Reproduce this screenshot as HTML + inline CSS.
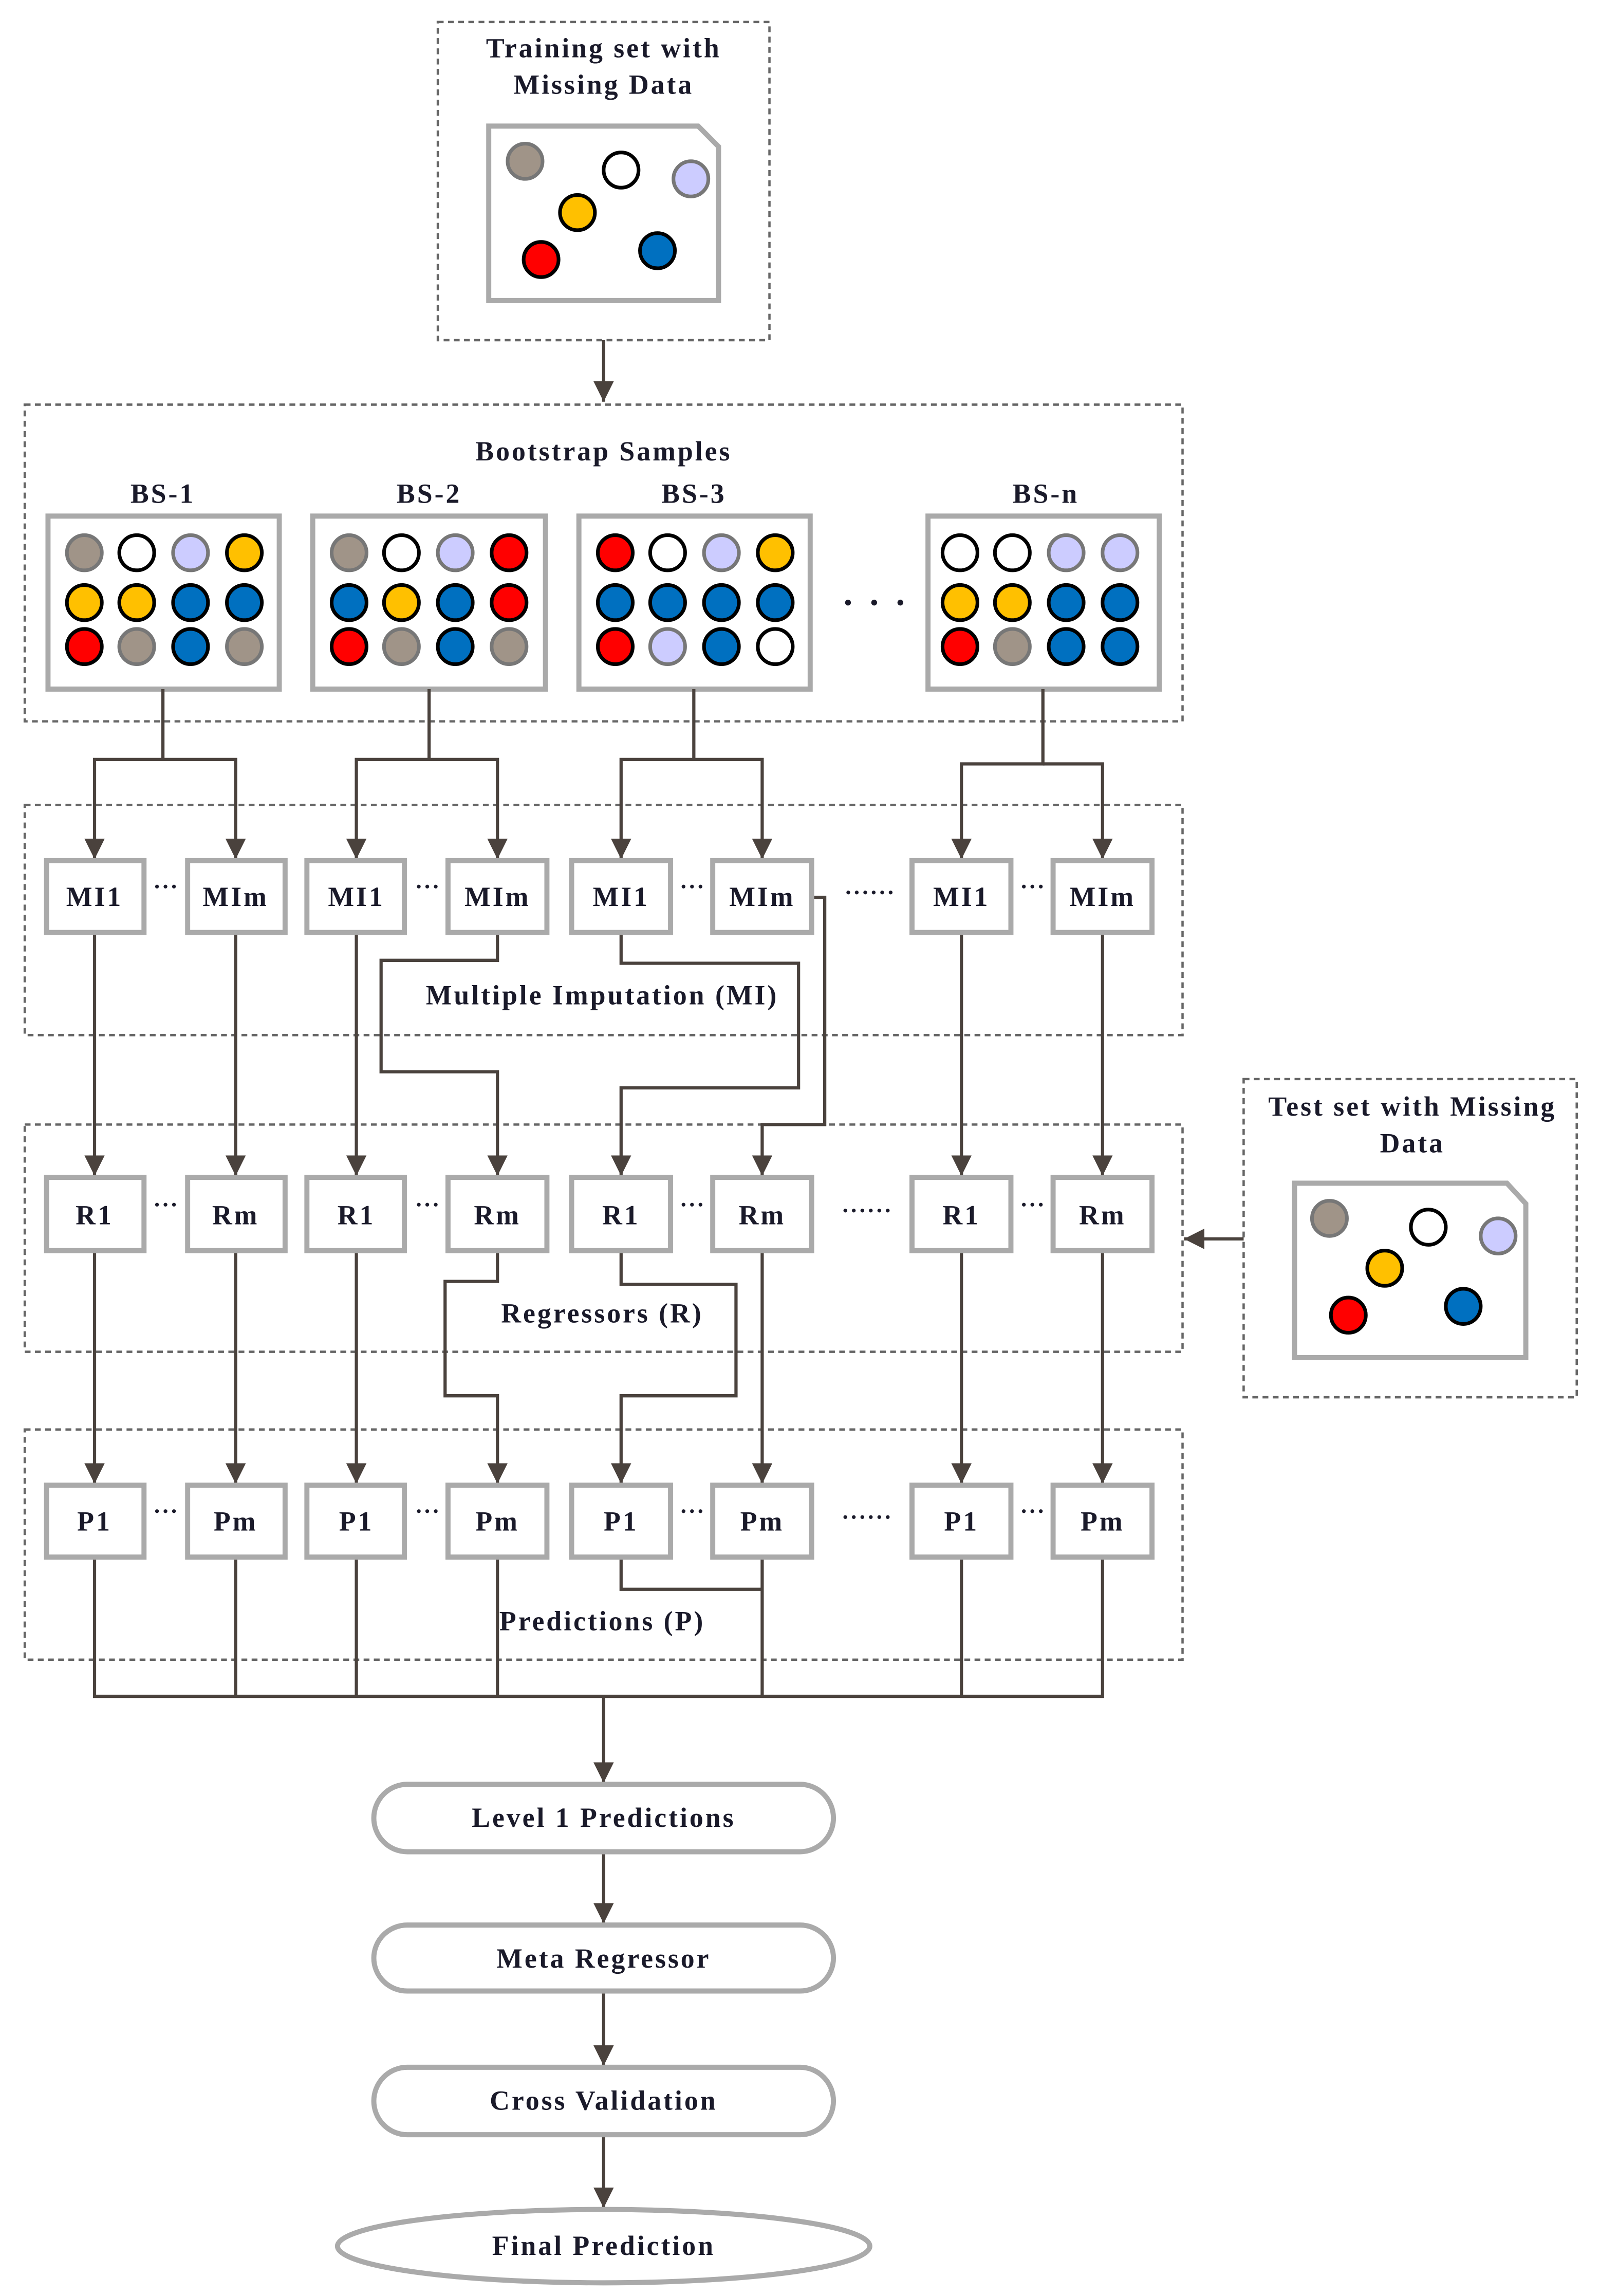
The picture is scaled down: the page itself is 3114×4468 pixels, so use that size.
<!DOCTYPE html>
<html><head><meta charset="utf-8"><style>html,body{margin:0;padding:0;background:#fff}svg{display:block}</style></head>
<body>
<svg width="3114" height="4468" viewBox="0 0 1100 1566" preserveAspectRatio="none" xmlns="http://www.w3.org/2000/svg" font-family="'Liberation Serif', serif" font-weight="bold">
<defs>
<marker id="b" viewBox="0 0 10 10" refX="10" refY="5" markerWidth="14" markerHeight="14" orient="auto" markerUnits="userSpaceOnUse"><path d="M0,0 L10,5 L0,10 z" fill="#4a423d"/></marker>
</defs>
<g fill="none" stroke="#666" stroke-width="1.6" stroke-dasharray="4 3">
<rect x="301" y="15" width="228" height="217"/>
<rect x="17" y="276" width="796" height="216"/>
<rect x="17" y="549" width="796" height="157"/>
<rect x="17" y="767" width="796" height="155"/>
<rect x="17" y="975" width="796" height="157"/>
<rect x="855" y="736" width="229" height="217"/>
</g>
<g fill="#1a1a2a" text-anchor="middle" font-size="19" letter-spacing="1.4">
<text x="415" y="39">Training set with</text>
<text x="415" y="64">Missing Data</text>
<text x="415" y="314">Bootstrap Samples</text>
<text x="112" y="343">BS-1</text>
<text x="295" y="343">BS-2</text>
<text x="477" y="343">BS-3</text>
<text x="719" y="343">BS-n</text>
<text x="414" y="685">Multiple Imputation (MI)</text>
<text x="414" y="902">Regressors (R)</text>
<text x="414" y="1112">Predictions (P)</text>
<text x="971" y="761">Test set with Missing</text>
<text x="971" y="786">Data</text>
</g>
<g fill="#fff" stroke="#aaa" stroke-width="3.5">
<path d="M336,86 H480 L494,100 V205 H336 Z"/>
<path d="M890,807 H1036 L1049,821 V926 H890 Z"/>
</g>
<g stroke-width="2.5">
<circle cx="361" cy="110" r="12" fill="#a09488" stroke="#777"/>
<circle cx="427" cy="116" r="12" fill="#fff" stroke="#000"/>
<circle cx="475" cy="122" r="12" fill="#ccccff" stroke="#777"/>
<circle cx="397" cy="145" r="12" fill="#ffc000" stroke="#000"/>
<circle cx="372" cy="177" r="12" fill="#ff0000" stroke="#000"/>
<circle cx="452" cy="171" r="12" fill="#0070c0" stroke="#000"/>
<circle cx="914" cy="831" r="12" fill="#a09488" stroke="#777"/>
<circle cx="982" cy="837" r="12" fill="#fff" stroke="#000"/>
<circle cx="1030" cy="843" r="12" fill="#ccccff" stroke="#777"/>
<circle cx="952" cy="865" r="12" fill="#ffc000" stroke="#000"/>
<circle cx="927" cy="897" r="12" fill="#ff0000" stroke="#000"/>
<circle cx="1006" cy="891" r="12" fill="#0070c0" stroke="#000"/>
</g>
<g fill="#fff" stroke="#aaa" stroke-width="3.5">
<rect x="33" y="352" width="159" height="118"/>
<rect x="215" y="352" width="160" height="118"/>
<rect x="398" y="352" width="159" height="118"/>
<rect x="638" y="352" width="159" height="118"/>
</g>
<g stroke-width="2.5">
<circle cx="58" cy="377" r="12" fill="#a09488" stroke="#777"/><circle cx="94" cy="377" r="12" fill="#fff" stroke="#000"/><circle cx="131" cy="377" r="12" fill="#ccccff" stroke="#777"/><circle cx="168" cy="377" r="12" fill="#ffc000" stroke="#000"/>
<circle cx="58" cy="411" r="12" fill="#ffc000" stroke="#000"/><circle cx="94" cy="411" r="12" fill="#ffc000" stroke="#000"/><circle cx="131" cy="411" r="12" fill="#0070c0" stroke="#000"/><circle cx="168" cy="411" r="12" fill="#0070c0" stroke="#000"/>
<circle cx="58" cy="441" r="12" fill="#ff0000" stroke="#000"/><circle cx="94" cy="441" r="12" fill="#a09488" stroke="#777"/><circle cx="131" cy="441" r="12" fill="#0070c0" stroke="#000"/><circle cx="168" cy="441" r="12" fill="#a09488" stroke="#777"/>
<circle cx="240" cy="377" r="12" fill="#a09488" stroke="#777"/><circle cx="276" cy="377" r="12" fill="#fff" stroke="#000"/><circle cx="313" cy="377" r="12" fill="#ccccff" stroke="#777"/><circle cx="350" cy="377" r="12" fill="#ff0000" stroke="#000"/>
<circle cx="240" cy="411" r="12" fill="#0070c0" stroke="#000"/><circle cx="276" cy="411" r="12" fill="#ffc000" stroke="#000"/><circle cx="313" cy="411" r="12" fill="#0070c0" stroke="#000"/><circle cx="350" cy="411" r="12" fill="#ff0000" stroke="#000"/>
<circle cx="240" cy="441" r="12" fill="#ff0000" stroke="#000"/><circle cx="276" cy="441" r="12" fill="#a09488" stroke="#777"/><circle cx="313" cy="441" r="12" fill="#0070c0" stroke="#000"/><circle cx="350" cy="441" r="12" fill="#a09488" stroke="#777"/>
<circle cx="423" cy="377" r="12" fill="#ff0000" stroke="#000"/><circle cx="459" cy="377" r="12" fill="#fff" stroke="#000"/><circle cx="496" cy="377" r="12" fill="#ccccff" stroke="#777"/><circle cx="533" cy="377" r="12" fill="#ffc000" stroke="#000"/>
<circle cx="423" cy="411" r="12" fill="#0070c0" stroke="#000"/><circle cx="459" cy="411" r="12" fill="#0070c0" stroke="#000"/><circle cx="496" cy="411" r="12" fill="#0070c0" stroke="#000"/><circle cx="533" cy="411" r="12" fill="#0070c0" stroke="#000"/>
<circle cx="423" cy="441" r="12" fill="#ff0000" stroke="#000"/><circle cx="459" cy="441" r="12" fill="#ccccff" stroke="#777"/><circle cx="496" cy="441" r="12" fill="#0070c0" stroke="#000"/><circle cx="533" cy="441" r="12" fill="#fff" stroke="#000"/>
<circle cx="660" cy="377" r="12" fill="#fff" stroke="#000"/><circle cx="696" cy="377" r="12" fill="#fff" stroke="#000"/><circle cx="733" cy="377" r="12" fill="#ccccff" stroke="#777"/><circle cx="770" cy="377" r="12" fill="#ccccff" stroke="#777"/>
<circle cx="660" cy="411" r="12" fill="#ffc000" stroke="#000"/><circle cx="696" cy="411" r="12" fill="#ffc000" stroke="#000"/><circle cx="733" cy="411" r="12" fill="#0070c0" stroke="#000"/><circle cx="770" cy="411" r="12" fill="#0070c0" stroke="#000"/>
<circle cx="660" cy="441" r="12" fill="#ff0000" stroke="#000"/><circle cx="696" cy="441" r="12" fill="#a09488" stroke="#777"/><circle cx="733" cy="441" r="12" fill="#0070c0" stroke="#000"/><circle cx="770" cy="441" r="12" fill="#0070c0" stroke="#000"/>
</g>
<g fill="#1a1a2a"><circle cx="583" cy="411" r="2"/><circle cx="601" cy="411" r="2"/><circle cx="619" cy="411" r="2"/></g>
<g fill="none" stroke="#4a423d" stroke-width="2.2" marker-end="url(#b)">
<path d="M415,232 V274"/>
<path d="M112,470 V518 H65 V586"/><path d="M112,518 H162 V586"/>
<path d="M295,470 V518 H245 V586"/><path d="M295,518 H342 V586"/>
<path d="M477,470 V518 H427 V586"/><path d="M477,518 H524 V586"/>
<path d="M717,470 V521 H661 V586"/><path d="M717,521 H758 V586"/>
<path d="M65,636 V802"/><path d="M162,636 V802"/><path d="M245,636 V802"/>
<path d="M342,636 V655 H262 V731 H342 V802"/>
<path d="M427,636 V657 H549 V742 H427 V802"/>
<path d="M558,612 H567 V767 H524 V802"/>
<path d="M661,636 V802"/><path d="M758,636 V802"/>
<path d="M65,853 V1012"/><path d="M162,853 V1012"/><path d="M245,853 V1012"/>
<path d="M342,853 V874 H306 V952 H342 V1012"/>
<path d="M427,853 V876 H506 V952 H427 V1012"/>
<path d="M524,853 V1012"/><path d="M661,853 V1012"/><path d="M758,853 V1012"/>
<path d="M855,845 H814"/>
<path d="M415,1157 V1216"/>
<path d="M415,1263 V1312"/>
<path d="M415,1358 V1409"/>
<path d="M415,1456 V1506"/>
</g>
<g fill="none" stroke="#4a423d" stroke-width="2.2">
<path d="M65,1062 V1157 H758 V1062"/>
<path d="M162,1062 V1157"/><path d="M245,1062 V1157"/><path d="M342,1062 V1157"/><path d="M524,1062 V1157"/><path d="M661,1062 V1157"/>
<path d="M427,1062 V1084 H524"/>
</g>
<g fill="#fff" stroke="#aaa" stroke-width="3.5">
<rect x="32" y="587" width="67" height="49"/><rect x="129" y="587" width="67" height="49"/><rect x="211" y="587" width="67" height="49"/><rect x="308" y="587" width="68" height="49"/><rect x="393" y="587" width="68" height="49"/><rect x="490" y="587" width="68" height="49"/><rect x="627" y="587" width="68" height="49"/><rect x="724" y="587" width="68" height="49"/>
<rect x="32" y="803" width="67" height="50"/><rect x="129" y="803" width="67" height="50"/><rect x="211" y="803" width="67" height="50"/><rect x="308" y="803" width="68" height="50"/><rect x="393" y="803" width="68" height="50"/><rect x="490" y="803" width="68" height="50"/><rect x="627" y="803" width="68" height="50"/><rect x="724" y="803" width="68" height="50"/>
<rect x="32" y="1013" width="67" height="49"/><rect x="129" y="1013" width="67" height="49"/><rect x="211" y="1013" width="67" height="49"/><rect x="308" y="1013" width="68" height="49"/><rect x="393" y="1013" width="68" height="49"/><rect x="490" y="1013" width="68" height="49"/><rect x="627" y="1013" width="68" height="49"/><rect x="724" y="1013" width="68" height="49"/>
<rect x="257" y="1217" width="316" height="46" rx="23"/>
<rect x="257" y="1313" width="316" height="45" rx="23"/>
<rect x="257" y="1410" width="316" height="46" rx="23"/>
<ellipse cx="415" cy="1532" rx="183" ry="25"/>
</g>
<g fill="#1a1a2a" text-anchor="middle" font-size="19" letter-spacing="1.4">
<text x="65" y="618">MI1</text><text x="162" y="618">MIm</text><text x="245" y="618">MI1</text><text x="342" y="618">MIm</text><text x="427" y="618">MI1</text><text x="524" y="618">MIm</text><text x="661" y="618">MI1</text><text x="758" y="618">MIm</text>
<text x="65" y="835">R1</text><text x="162" y="835">Rm</text><text x="245" y="835">R1</text><text x="342" y="835">Rm</text><text x="427" y="835">R1</text><text x="524" y="835">Rm</text><text x="661" y="835">R1</text><text x="758" y="835">Rm</text>
<text x="65" y="1044">P1</text><text x="162" y="1044">Pm</text><text x="245" y="1044">P1</text><text x="342" y="1044">Pm</text><text x="427" y="1044">P1</text><text x="524" y="1044">Pm</text><text x="661" y="1044">P1</text><text x="758" y="1044">Pm</text>
<text x="415" y="1246">Level 1 Predictions</text>
<text x="415" y="1342">Meta Regressor</text>
<text x="415" y="1439">Cross Validation</text>
<text x="415" y="1538">Final Prediction</text>
</g>
<g fill="#1a1a2a" font-size="16" text-anchor="middle" letter-spacing="0.5">
<text x="114" y="610">···</text><text x="294" y="610">···</text><text x="476" y="610">···</text><text x="598" y="614">······</text><text x="710" y="610">···</text>
<text x="114" y="827">···</text><text x="294" y="827">···</text><text x="476" y="827">···</text><text x="596" y="831">······</text><text x="710" y="827">···</text>
<text x="114" y="1036">···</text><text x="294" y="1036">···</text><text x="476" y="1036">···</text><text x="596" y="1040">······</text><text x="710" y="1036">···</text>
</g>
</svg>
</body></html>
